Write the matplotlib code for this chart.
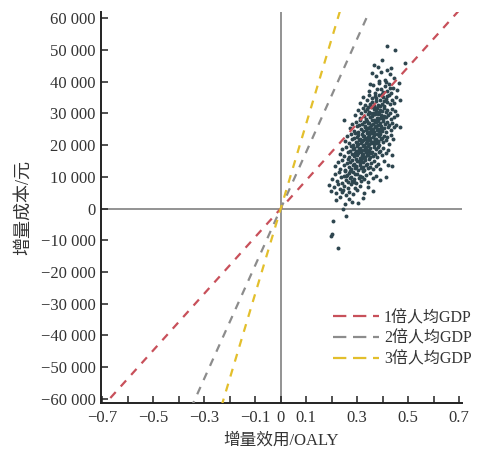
import matplotlib
matplotlib.use("Agg")
import matplotlib.pyplot as plt
from matplotlib.lines import Line2D
import numpy as np

# ---------------- data ----------------
gdp_per_capita = 89358
multipliers = [1, 2, 3]
legend_labels = ["1倍人均GDP", "2倍人均GDP", "3倍人均GDP"]
line_colors = ["#c8505a", "#8c8c8c", "#e3bf2c"]

x_ticks = [-0.7, -0.6, -0.5, -0.4, -0.3, -0.2, -0.1, 0.0, 0.1, 0.2, 0.3, 0.4, 0.5, 0.6, 0.7]
x_tick_labels = ["\u22120.7", "", "\u22120.5", "", "\u22120.3", "", "\u22120.1", "0", "0.1", "", "0.3", "", "0.5", "", "0.7"]
y_ticks = [-60000, -50000, -40000, -30000, -20000, -10000, 0, 10000, 20000, 30000, 40000, 50000, 60000]
y_tick_labels = ["\u221260 000", "\u221250 000", "\u221240 000", "\u221230 000", "\u221220 000", "\u221210 000", "0",
                 "10 000", "20 000", "30 000", "40 000", "50 000", "60 000"]

# Monte Carlo scatter (incremental QALY, incremental cost)
pts = [
    # top outliers
    (0.416, 51300), (0.450, 50000), (0.487, 46000), (0.364, 45300), (0.433, 44200), (0.398, 46800), (0.381, 44600),
    # 40000-44000
    (0.372, 41800), (0.395, 43100), (0.410, 40600), (0.428, 42400), (0.446, 41200), (0.386, 40300), (0.418, 43700), (0.358, 42900),
    # 36000-40000
    (0.345, 37200), (0.362, 38900), (0.371, 36400), (0.384, 39500), (0.392, 37800), (0.401, 36700), (0.409, 38600), (0.417, 37100),
    (0.425, 39200), (0.433, 36300), (0.441, 38100), (0.456, 37500), (0.378, 37600), (0.396, 36100), (0.414, 39800), (0.352, 39300),
    (0.462, 39600), (0.429, 37900),
    # 32000-36000
    (0.312, 33400), (0.324, 35100), (0.331, 32600), (0.338, 34300), (0.346, 35700), (0.352, 33100), (0.359, 34800), (0.364, 32300),
    (0.369, 35400), (0.375, 33900), (0.381, 32800), (0.386, 35900), (0.391, 34100), (0.396, 33000), (0.402, 35200), (0.407, 32500),
    (0.412, 34600), (0.418, 33500), (0.423, 35800), (0.429, 32900), (0.436, 34400), (0.443, 33200), (0.451, 35300), (0.468, 34100),
    (0.357, 33700), (0.373, 34900), (0.389, 32200), (0.404, 33800), (0.416, 35500), (0.342, 32100),
    # 28000-32000
    (0.291, 29400), (0.302, 31200), (0.309, 28600), (0.315, 30300), (0.321, 31700), (0.326, 29100), (0.331, 30800), (0.335, 28300),
    (0.339, 31400), (0.343, 29800), (0.347, 30600), (0.351, 28800), (0.354, 31900), (0.357, 29300), (0.361, 30100), (0.364, 28100),
    (0.367, 31300), (0.370, 29700), (0.373, 30900), (0.376, 28500), (0.379, 31600), (0.382, 29900), (0.385, 30400), (0.388, 28700),
    (0.391, 31100), (0.394, 29500), (0.397, 30700), (0.400, 28200), (0.404, 31800), (0.407, 29200), (0.411, 30500), (0.414, 28900),
    (0.418, 31000), (0.422, 29600), (0.427, 30200), (0.432, 28400), (0.437, 31500), (0.443, 29000), (0.449, 30800), (0.458, 29400),
    (0.366, 29900), (0.383, 28000), (0.352, 30300), (0.398, 29100), (0.372, 31800),
    # 24000-28000
    (0.272, 25300), (0.281, 26800), (0.288, 24600), (0.294, 27400), (0.299, 25900), (0.304, 24200), (0.308, 26300), (0.312, 27800),
    (0.316, 25100), (0.320, 26700), (0.323, 24500), (0.326, 27200), (0.329, 25600), (0.332, 26100), (0.335, 24800), (0.338, 27600),
    (0.341, 25400), (0.343, 26900), (0.346, 24100), (0.348, 27000), (0.351, 25800), (0.353, 26400), (0.356, 24700), (0.358, 27900),
    (0.361, 25200), (0.363, 26600), (0.366, 24300), (0.368, 27300), (0.371, 25700), (0.373, 26200), (0.376, 24900), (0.378, 27700),
    (0.381, 25000), (0.383, 26500), (0.386, 24400), (0.389, 27100), (0.392, 25500), (0.395, 26000), (0.398, 24600), (0.402, 27500),
    (0.405, 25300), (0.409, 26800), (0.413, 24200), (0.417, 27400), (0.421, 25800), (0.426, 26300), (0.431, 24900), (0.437, 27000),
    (0.444, 25600), (0.452, 26500), (0.466, 25800), (0.248, 28100), (0.359, 25100), (0.374, 27200), (0.344, 25500),
    # 20000-24000
    (0.252, 21300), (0.261, 22800), (0.268, 20600), (0.274, 23400), (0.279, 21900), (0.284, 20200), (0.288, 22300), (0.292, 23800),
    (0.296, 21100), (0.299, 22700), (0.302, 20500), (0.305, 23200), (0.308, 21600), (0.311, 22100), (0.314, 20800), (0.317, 23600),
    (0.319, 21400), (0.322, 22900), (0.325, 20100), (0.327, 23000), (0.330, 21800), (0.332, 22400), (0.335, 20700), (0.337, 23900),
    (0.340, 21200), (0.342, 22600), (0.345, 20300), (0.347, 23300), (0.350, 21700), (0.352, 22200), (0.355, 20900), (0.357, 23700),
    (0.360, 21000), (0.362, 22500), (0.365, 20400), (0.367, 23100), (0.370, 21500), (0.372, 22000), (0.375, 20600), (0.378, 23500),
    (0.381, 21300), (0.384, 22800), (0.387, 20200), (0.390, 23400), (0.394, 21800), (0.398, 22300), (0.402, 20900), (0.407, 23000),
    (0.412, 21600), (0.418, 22500), (0.425, 20500), (0.433, 23200), (0.442, 21900), (0.338, 22100), (0.353, 20600), (0.368, 21900),
    (0.324, 21500), (0.383, 20900), (0.299, 20800), (0.345, 23600),
    # 16000-20000
    (0.232, 17300), (0.241, 18800), (0.249, 16600), (0.256, 19400), (0.262, 17900), (0.267, 16200), (0.271, 18300), (0.275, 19800),
    (0.279, 17100), (0.283, 18700), (0.286, 16500), (0.289, 19200), (0.292, 17600), (0.295, 18100), (0.298, 16800), (0.301, 19600),
    (0.304, 17400), (0.306, 18900), (0.309, 16100), (0.311, 19000), (0.314, 17800), (0.316, 18400), (0.319, 16700), (0.321, 19900),
    (0.324, 17200), (0.326, 18600), (0.329, 16300), (0.331, 19300), (0.334, 17700), (0.336, 18200), (0.339, 16900), (0.341, 19700),
    (0.344, 17000), (0.346, 18500), (0.349, 16400), (0.352, 19100), (0.355, 17500), (0.358, 18000), (0.361, 16600), (0.364, 19500),
    (0.368, 17300), (0.372, 18800), (0.376, 16200), (0.380, 19400), (0.385, 17800), (0.390, 18300), (0.396, 16900), (0.403, 19000),
    (0.411, 17600), (0.422, 18500), (0.437, 17000), (0.318, 17000), (0.333, 18800), (0.348, 17900), (0.303, 18300),
    # 12000-16000
    (0.212, 13300), (0.224, 14800), (0.233, 12600), (0.241, 15400), (0.248, 13900), (0.254, 12200), (0.259, 14300), (0.264, 15800),
    (0.268, 13100), (0.272, 14700), (0.276, 12500), (0.280, 15200), (0.284, 13600), (0.287, 14100), (0.291, 12800), (0.294, 15600),
    (0.297, 13400), (0.300, 14900), (0.303, 12100), (0.306, 15000), (0.309, 13800), (0.312, 14400), (0.315, 12700), (0.318, 15900),
    (0.321, 13200), (0.324, 14600), (0.327, 12300), (0.330, 15300), (0.334, 13700), (0.338, 14200), (0.342, 12900), (0.346, 15700),
    (0.350, 13000), (0.355, 14500), (0.360, 12400), (0.366, 15100), (0.373, 13500), (0.381, 14000), (0.391, 12600), (0.404, 15000),
    (0.421, 13600), (0.437, 13400), (0.411, 10000), (0.296, 13000), (0.313, 15400),
    # 8000-12000
    (0.203, 9300), (0.214, 10800), (0.222, 8600), (0.229, 11400), (0.236, 9900), (0.242, 8200), (0.247, 10300), (0.252, 11800),
    (0.257, 9100), (0.261, 10700), (0.265, 8500), (0.269, 11200), (0.273, 9600), (0.277, 10100), (0.281, 8800), (0.285, 11600),
    (0.289, 9400), (0.293, 10900), (0.297, 8100), (0.301, 11000), (0.306, 9800), (0.311, 10400), (0.316, 8700), (0.322, 11900),
    (0.328, 9200), (0.335, 10600), (0.343, 8300), (0.352, 11300), (0.362, 9700), (0.374, 10200), (0.389, 8900), (0.272, 11900),
    (0.287, 8300), (0.256, 10200), (0.318, 10000),
    # 4000-8000
    (0.188, 7400), (0.199, 5600), (0.208, 6900), (0.217, 4800), (0.226, 7700), (0.234, 6200), (0.241, 5100), (0.248, 7200),
    (0.255, 4400), (0.262, 6600), (0.269, 5300), (0.276, 7900), (0.284, 4700), (0.292, 6400), (0.301, 5800), (0.312, 7100),
    (0.326, 4900), (0.342, 6700), (0.361, 5500), (0.244, 6000),
    # 0-4000
    (0.218, 2600), (0.231, 3600), (0.244, 0), (0.253, 1400), (0.267, 3100), (0.281, 2200), (0.303, 1800), (0.322, 3400),
    # negative outliers
    (0.205, -3800), (0.257, -2400), (0.202, -8000), (0.197, -8600), (0.226, -12500),
]
qaly = [p[0] for p in pts]
cost = [p[1] for p in pts]

# ---------------- figure ----------------
serif_cjk = ["Liberation Serif", "Noto Sans CJK SC", "DejaVu Sans"]
plt.rcParams["font.family"] = serif_cjk
plt.rcParams["axes.unicode_minus"] = True

fig = plt.figure(figsize=(4.82, 4.5), dpi=100)
ax = fig.add_axes([101 / 482, 1 - 403 / 450, 361 / 482, 391 / 450])

ax.set_xlim(-0.705, 0.711)
ax.set_ylim(-61300, 62000)

ax.axhline(0, color="#8a8a8a", lw=1.3, zorder=1)
ax.axvline(0, color="#8a8a8a", lw=1.3, zorder=1)

ax.scatter(qaly, cost, s=8, color="#2e464f", linewidths=0, zorder=2)

xx = np.array([-0.75, 0.75])
for m, c in zip(multipliers, line_colors):
    ax.plot(xx, xx * gdp_per_capita * m, color=c, lw=1.6, ls=(0, (3.6, 3.4)), zorder=3)

for side in ["top", "right"]:
    ax.spines[side].set_visible(False)
for side in ["left", "bottom"]:
    ax.spines[side].set_linewidth(1.4)
    ax.spines[side].set_color("#222222")

ax.set_xticks(x_ticks)
ax.set_xticklabels(x_tick_labels)
ax.set_yticks(y_ticks)
ax.set_yticklabels(y_tick_labels)
ax.tick_params(direction="in", length=5, width=1.1, color="#222222", labelsize=12, labelcolor="#333333")
ax.tick_params(axis="x", pad=5)
ax.tick_params(axis="y", pad=4)

ax.set_xlabel("增量效用/OALY", fontsize=12, color="#333333", labelpad=5)
ax.set_ylabel("增量成本/元", fontsize=13, color="#333333", labelpad=6)

handles = [Line2D([0], [0], color=c, lw=1.6, ls=(0, (6, 3))) for c in line_colors]
fig.legend(handles, legend_labels, loc="upper left", bbox_to_anchor=(333 / 482, 1 - 310 / 450),
           frameon=False, fontsize=11.5, handlelength=2.9, handletextpad=0.3, labelspacing=0.3,
           borderpad=0, borderaxespad=0, labelcolor="#333333")

fig.savefig("out.png", dpi=100)
